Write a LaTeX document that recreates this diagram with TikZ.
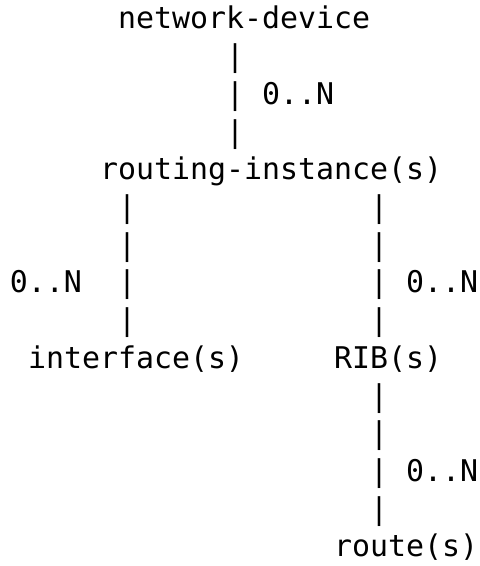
\documentclass[tikz,border=0pt]{standalone}
\usepackage{fontspec}
\setmonofont{DejaVu Sans Mono}
\begin{document}
\begin{tikzpicture}[x=0.5pt,y=-0.5pt,
  tok/.style={anchor=base west, inner sep=0pt, outer sep=0pt,
    font=\ttfamily\fontsize{14.95}{18}\selectfont}]
\useasboundingbox (0,0) rectangle (480,566);
% column c -> x = 10+18c ; row r -> baseline y = 29+37.7r
\node[tok] (nd)  at ({10+18*6},{29+37.7*0}) {network-device};
\node[tok] (ri)  at ({10+18*5},{29+37.7*4}) {routing-instance(s)};
\node[tok] (ifc) at ({10+18*1},{29+37.7*9}) {interface(s)};
\node[tok] (rib) at ({10+18*18},{29+37.7*9}) {RIB(s)};
\node[tok] (rt)  at ({10+18*18},{29+37.7*14}) {route(s)};
% cardinality labels
\node[tok] (m1) at ({10+18*14},{29+37.7*2}) {0..N};
\node[tok] (m2) at ({10+18*0},{29+37.7*7}) {0..N};
\node[tok] (m3) at ({10+18*22},{29+37.7*7}) {0..N};
\node[tok] (m4) at ({10+18*22},{29+37.7*12}) {0..N};
% connectors (ASCII bars)
\foreach \r in {1,2,3} \node[tok] (a\r) at ({10+18*12},{29+37.7*\r}) {|};
\foreach \r in {5,6,7,8} \node[tok] (b\r) at ({10+18*6},{29+37.7*\r}) {|};
\foreach \r in {5,6,7,8,10,11,12,13} \node[tok] (c\r) at ({10+18*20},{29+37.7*\r}) {|};
\end{tikzpicture}
\end{document}
